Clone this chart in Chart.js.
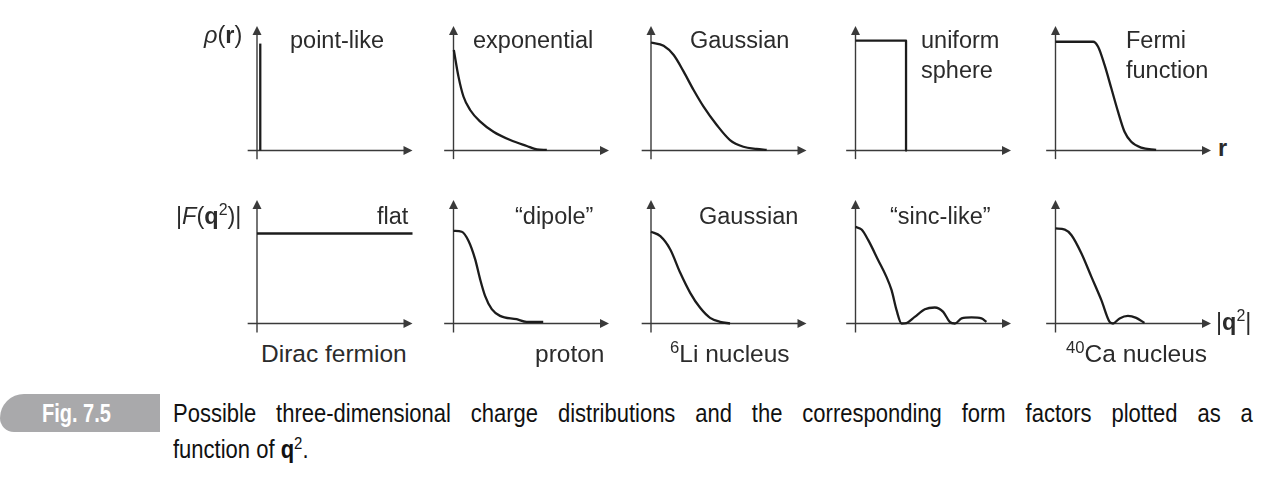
<!DOCTYPE html>
<html><head><meta charset="utf-8">
<script src="https://cdn.jsdelivr.net/npm/chart.js@4"></script>
<style>
html,body{margin:0;padding:0;background:#fff;}
body{width:1270px;height:503px;position:relative;overflow:hidden;font-family:"Liberation Sans",Arial,sans-serif;color:#2b2b2b;}
canvas{position:absolute;}
.lbl{position:absolute;white-space:nowrap;}
.sup{font-size:0.68em;vertical-align:0.55em;line-height:0;}
#tab{position:absolute;left:0;top:394px;width:160px;height:38px;background:#a9a9ab;border-radius:24px 0 0 14px;}
#tabtxt{position:absolute;left:42px;top:394px;height:38px;line-height:38px;color:#fff;font-weight:bold;font-size:25px;transform:scaleX(0.8);transform-origin:0 0;}
.cap{position:absolute;left:173px;width:1227px;font-size:25px;line-height:36px;color:#111;transform:scaleX(0.88);transform-origin:0 0;}
#cap1{top:395px;text-align:justify;text-align-last:justify;}
#cap2{top:431px;text-align:left;}
</style></head><body>
<script>
// ---------- DATA ----------
// Row 1: charge distributions rho(r)  (x = r, y = rho, arbitrary units)
const pointLikeR   = [0.21, 0.21];
const pointLikeRho = [0, 0.99];
const exponentialR   = [0.02, 0.32, 0.64, 1.07, 1.72, 2.57, 3.65, 4.71, 5.36, 6.0];
const exponentialRho = [0.93, 0.684, 0.5, 0.375, 0.267, 0.174, 0.097, 0.042, 0.011, 0.005];
const gaussianR   = [0, 0.81, 1.46, 2.1, 2.74, 3.38, 4.23, 5.08, 5.94, 6.79, 7.44];
const gaussianRho = [1.0, 0.97, 0.884, 0.73, 0.56, 0.406, 0.236, 0.097, 0.035, 0.014, 0.005];
const uniformR   = [0, 3.25, 3.25];
const uniformRho = [1.017, 1.017, 0];
const fermiR   = [0, 2.42, 2.74, 3.16, 3.59, 4.02, 4.44, 4.87, 5.51, 6.47];
const fermiRho = [1.007, 1.007, 0.961, 0.79, 0.576, 0.36, 0.174, 0.081, 0.026, 0.005];
// Row 2: form factors |F(q^2)|  (x = |q^2|, y = |F|)
const flatQ = [0, 10];
const flatF = [1.0, 1.0];
const dipoleQ = [0, 0.53, 0.96, 1.39, 1.71, 2.03, 2.46, 2.99, 4.06, 4.7, 5.77];
const dipoleF = [1.03, 1.019, 0.919, 0.715, 0.493, 0.307, 0.159, 0.085, 0.048, 0.019, 0.019];
const gaussFFQ = [0, 0.6, 1.24, 1.88, 2.52, 3.16, 3.8, 4.44, 5.08];
const gaussFF  = [1.019, 0.97, 0.822, 0.563, 0.341, 0.174, 0.063, 0.019, 0.0];
const sincQ = [0, 0.39, 0.82, 1.46, 1.99, 2.32, 2.64, 2.96, 3.28, 3.81, 4.46, 5.1, 5.64, 6.06, 6.39, 6.82, 7.46, 8.1, 8.42];
const sincF = [1.073, 1.044, 0.926, 0.703, 0.518, 0.37, 0.148, 0.0, 0.005, 0.073, 0.159, 0.178, 0.129, 0.018, 0.0, 0.056, 0.067, 0.056, 0.018];
const caQ = [0, 0.6, 1.03, 1.67, 2.31, 2.95, 3.48, 3.7, 4.12, 4.66, 5.19, 5.72];
const caF = [1.056, 1.044, 0.981, 0.778, 0.518, 0.259, 0.018, 0.0, 0.056, 0.084, 0.062, 0.007];
// Panel labels
const topTitles = ["point-like", "exponential", "Gaussian", "uniform\nsphere", "Fermi\nfunction"];
const bottomTitles = ["flat", "\u201cdipole\u201d", "Gaussian", "\u201csinc-like\u201d", ""];

// ---------- LAYOUT ----------
const panels = [
  {row:0,col:0,x:pointLikeR,y:pointLikeRho,smooth:false},
  {row:0,col:1,x:exponentialR,y:exponentialRho,smooth:true},
  {row:0,col:2,x:gaussianR,y:gaussianRho,smooth:true},
  {row:0,col:3,x:uniformR,y:uniformRho,smooth:false},
  {row:0,col:4,x:fermiR,y:fermiRho,smooth:true},
  {row:1,col:0,x:flatQ,y:flatF,smooth:false},
  {row:1,col:1,x:dipoleQ,y:dipoleF,smooth:true},
  {row:1,col:2,x:gaussFFQ,y:gaussFF,smooth:true},
  {row:1,col:3,x:sincQ,y:sincF,smooth:true},
  {row:1,col:4,x:caQ,y:caF,smooth:true}
];
const colAxisX = [257, 453.5, 651, 855.5, 1055.5];
const rowAxisY = [150.5, 323.5];
const rowPxPerY = [108, 90];
const rowYTip = [1.153, 1.372];
const rowYStart = [-0.08, -0.1];
const pxPerX = 15.55;

const arrowAxes = {
  id: 'arrowAxes',
  beforeDatasetsDraw(chart, args, o) {
    const {ctx, scales:{x, y}} = chart;
    const x0 = x.getPixelForValue(0), y0 = y.getPixelForValue(0);
    const xs = x.getPixelForValue(o.xStart), xe = x.getPixelForValue(o.xEnd);
    const ys = y.getPixelForValue(o.yStart), ye = y.getPixelForValue(o.yEnd);
    const L = 9, W = 4.5;
    ctx.save();
    ctx.strokeStyle = '#3a3a3a'; ctx.fillStyle = '#3a3a3a'; ctx.lineWidth = 1.4;
    ctx.beginPath(); ctx.moveTo(xs, y0); ctx.lineTo(xe - L + 1, y0); ctx.stroke();
    ctx.beginPath(); ctx.moveTo(x0, ys); ctx.lineTo(x0, ye + L - 1); ctx.stroke();
    ctx.beginPath(); ctx.moveTo(xe, y0); ctx.lineTo(xe - L, y0 - W); ctx.lineTo(xe - L, y0 + W); ctx.closePath(); ctx.fill();
    ctx.beginPath(); ctx.moveTo(x0, ye); ctx.lineTo(x0 - W, ye + L); ctx.lineTo(x0 + W, ye + L); ctx.closePath(); ctx.fill();
    ctx.restore();
  }
};

panels.forEach((p) => {
  const cv = document.createElement('canvas');
  const ax = colAxisX[p.col], ay = rowAxisY[p.row], py = rowPxPerY[p.row];
  const left = Math.round(ax - 0.9 * pxPerX), width = 176;
  const top = Math.round(ay - (rowYTip[p.row] + 0.04) * py);
  const height = Math.round(ay + 14 - top);
  cv.width = width; cv.height = height;
  cv.style.left = left + 'px'; cv.style.top = top + 'px';
  cv.style.width = width + 'px'; cv.style.height = height + 'px';
  document.body.appendChild(cv);
  const xMin = (left - ax) / pxPerX, xMax = xMin + width / pxPerX;
  const yMax = (ay - top) / py, yMin = yMax - height / py;
  new Chart(cv, {
    type: 'line',
    data: { datasets: [{
      data: p.x.map((v, i) => ({x: v, y: p.y[i]})),
      borderColor: '#1c1c1c', borderWidth: 2.3, pointRadius: 0, fill: false,
      cubicInterpolationMode: p.smooth ? 'monotone' : 'default', tension: 0,
      borderJoinStyle: 'round', borderCapStyle: 'butt', clip: false
    }]},
    options: {
      responsive: false, animation: false, devicePixelRatio: 1,
      layout: {padding: 0},
      plugins: {legend: {display: false}, tooltip: {enabled: false},
        arrowAxes: {xStart: -0.6, xEnd: 10, yStart: rowYStart[p.row], yEnd: rowYTip[p.row]}},
      scales: {
        x: {type: 'linear', min: xMin, max: xMax, display: false},
        y: {type: 'linear', min: yMin, max: yMax, display: false}
      }
    },
    plugins: [arrowAxes]
  });
});

// ---------- TEXT ----------
function label(html, left, baseline, size, extra) {
  const d = document.createElement('div');
  d.className = 'lbl';
  d.innerHTML = html;
  d.style.left = left + 'px';
  d.style.fontSize = size + 'px';
  d.style.lineHeight = size + 'px';
  d.style.top = (baseline - 0.8465 * size) + 'px';
  if (extra) d.style.cssText += extra;
  document.body.appendChild(d);
}
const topTitleX = [290, 473, 690, 921, 1126];
topTitles.forEach((t, i) => {
  t.split('\n').forEach((line, k) => label(line, topTitleX[i], 49 + k * 29.4, 23.5));
});
const botTitleX = [377, 515, 699, 890];
bottomTitles.forEach((t, i) => { if (t) label(t, botTitleX[i], 225, 23.5); });
label('<i>\u03c1</i>(<b>r</b>)', 204, 44, 23.5);
label('<b>r</b>', 1218, 157, 23.5);
label('|<i>F</i>(<b>q</b><span class="sup">2</span>)|', 176, 225, 23.5);
label('|<b>q</b><span class="sup">2</span>|', 1216, 331, 23.5);
label('Dirac fermion', 261, 363, 24.5);
label('proton', 535, 363, 24.5);
label('<span class="sup">6</span>Li nucleus', 670, 363, 24.5);
label('<span class="sup">40</span>Ca nucleus', 1066, 363, 24.5);
</script>
<div id="tab"></div>
<div id="tabtxt">Fig. 7.5</div>
<div id="cap1" class="cap">Possible three-dimensional charge distributions and the corresponding form factors plotted as a</div>
<div id="cap2" class="cap">function of <b>q</b><span class="sup">2</span>.</div>
</body></html>
